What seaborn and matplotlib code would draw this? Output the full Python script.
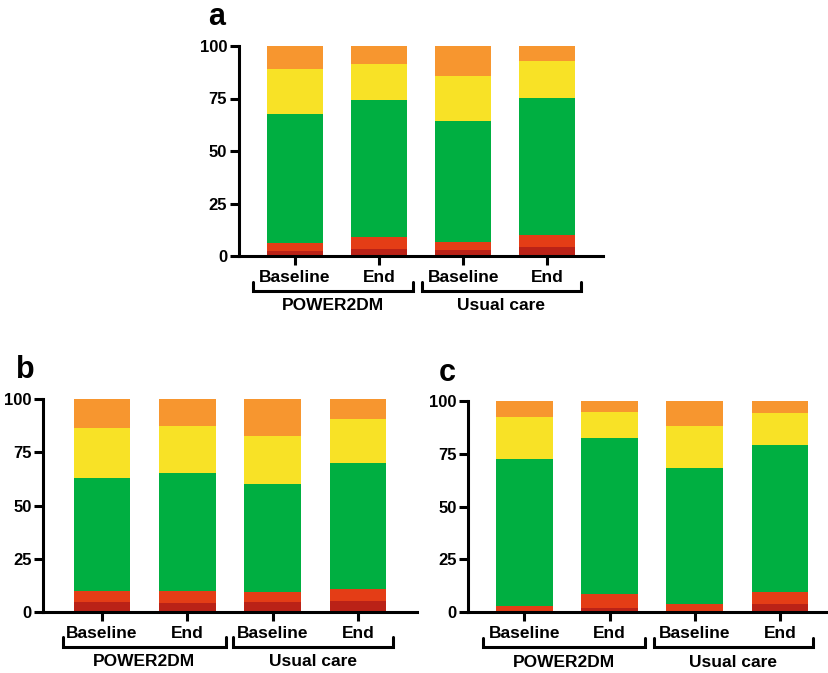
import matplotlib
matplotlib.use("Agg")
import matplotlib.pyplot as plt
import matplotlib.transforms as mtransforms
import numpy as np
import pandas as pd
import seaborn as sns

sns.set_style("ticks")
plt.rcParams["font.family"] = ["Liberation Sans", "DejaVu Sans"]
plt.rcParams["font.weight"] = "bold"
plt.rcParams["text.color"] = "black"
plt.rcParams["xtick.color"] = "black"
plt.rcParams["ytick.color"] = "black"
plt.rcParams["xtick.labelcolor"] = "black"
plt.rcParams["ytick.labelcolor"] = "black"

# ---- data ----
bar_ids = ["P_base", "P_end", "U_base", "U_end"]
tick_labels = ["Baseline", "End", "Baseline", "End"]
groups = ["POWER2DM", "Usual care"]
categories = ["Very low", "Low", "In range", "High", "Very high"]
colors = ["#BA2217", "#E43D16", "#00AF41", "#F8E226", "#F7962F"]

# segment percentages per bar (bottom -> top)
a_very_low = [2.4, 3.2, 2.9, 4.3]
a_low = [3.6, 5.8, 3.6, 5.7]
a_in_range = [61.8, 65.4, 57.9, 65.2]
a_high = [21.1, 17.2, 21.5, 17.5]
a_very_high = [11.1, 8.4, 14.1, 7.3]

b_very_low = [4.6, 4.0, 4.4, 5.2]
b_low = [5.1, 5.7, 4.9, 5.5]
b_in_range = [53.4, 55.5, 50.9, 59.5]
b_high = [23.2, 22.2, 22.5, 20.4]
b_very_high = [13.7, 12.6, 17.3, 9.4]

c_very_low = [0.0, 2.2, 0.0, 3.9]
c_low = [2.8, 6.3, 4.1, 5.6]
c_in_range = [69.6, 73.8, 64.0, 69.7]
c_high = [20.0, 12.5, 20.2, 15.1]
c_very_high = [7.6, 5.2, 11.7, 5.7]

W, H = 829, 673
fig = plt.figure(figsize=(W / 100, H / 100), dpi=100)


def px_axes(left, right, bottom, top):
    return fig.add_axes([left / W, (H - bottom) / H, (right - left) / W, (bottom - top) / H])


def draw_panel(ax, segs, letter, xlim, letter_xy, brackets):
    df = pd.DataFrame({"bar": bar_ids})
    cum = np.cumsum(np.array(segs), axis=0)
    # draw from the top category down so lower segments overlay
    for k in range(len(categories) - 1, -1, -1):
        df["v"] = cum[k]
        sns.barplot(data=df, x="bar", y="v", order=bar_ids, color=colors[k],
                    saturation=1, width=0.665, linewidth=0, ax=ax, errorbar=None)
    ax.set_ylim(0, 100)
    ax.set_xlim(*xlim)
    ax.set_yticks([0, 25, 50, 75, 100])
    ax.set_yticklabels(["0", "25", "50", "75", "100"], fontsize=12, fontweight="bold")
    ax.set_xticks(range(4))
    ax.set_xticklabels(tick_labels, fontsize=12.5, fontweight="bold")
    ax.set_xlabel("")
    ax.set_ylabel("")
    for s in ["top", "right"]:
        ax.spines[s].set_visible(False)
    for s in ["left", "bottom"]:
        ax.spines[s].set_linewidth(2.2)
        ax.spines[s].set_color("black")
    ax.tick_params(axis="y", length=6.5, width=2.2, pad=2, color="black")
    ax.tick_params(axis="x", length=6.5, width=2.2, pad=3.5, color="black")
    ax.set_facecolor("none")

    # brackets & group labels (pixel offsets below the x axis)
    hpx = ax.bbox.height
    trans = mtransforms.blended_transform_factory(ax.transData, ax.transAxes)
    yb = -35 / hpx
    yt = -25.5 / hpx
    for (x0, x1), g in zip(brackets, groups):
        ax.plot([x0, x0, x1, x1], [yt, yb, yb, yt], color="black", lw=2.2,
                transform=trans, clip_on=False, solid_joinstyle="miter")
        ax.text((x0 + x1) / 2, -50 / hpx, g, transform=trans, ha="center", va="center",
                fontsize=12.5, fontweight="bold", color="black")
    fig.text(letter_xy[0] / W, 1 - letter_xy[1] / H, letter, fontsize=22,
             fontweight="bold", ha="center", va="baseline", color="black")


ax_a = px_axes(239, 603, 256, 46)
draw_panel(ax_a, [a_very_low, a_low, a_in_range, a_high, a_very_high], "a",
           (-0.66, 3.66), (217, 25), [(-0.49, 1.41), (1.51, 3.40)])

ax_b = px_axes(43.3, 416.7, 611.7, 399.3)
draw_panel(ax_b, [b_very_low, b_low, b_in_range, b_high, b_very_high], "b",
           (-0.69, 3.69), (25, 378), [(-0.46, 1.45), (1.54, 3.41)])

ax_c = px_axes(468.3, 836, 612.3, 401)
draw_panel(ax_c, [c_very_low, c_low, c_in_range, c_high, c_very_high], "c",
           (-0.66, 3.66), (447, 381), [(-0.49, 1.42), (1.52, 3.39)])

fig.savefig("out.png", dpi=100)
